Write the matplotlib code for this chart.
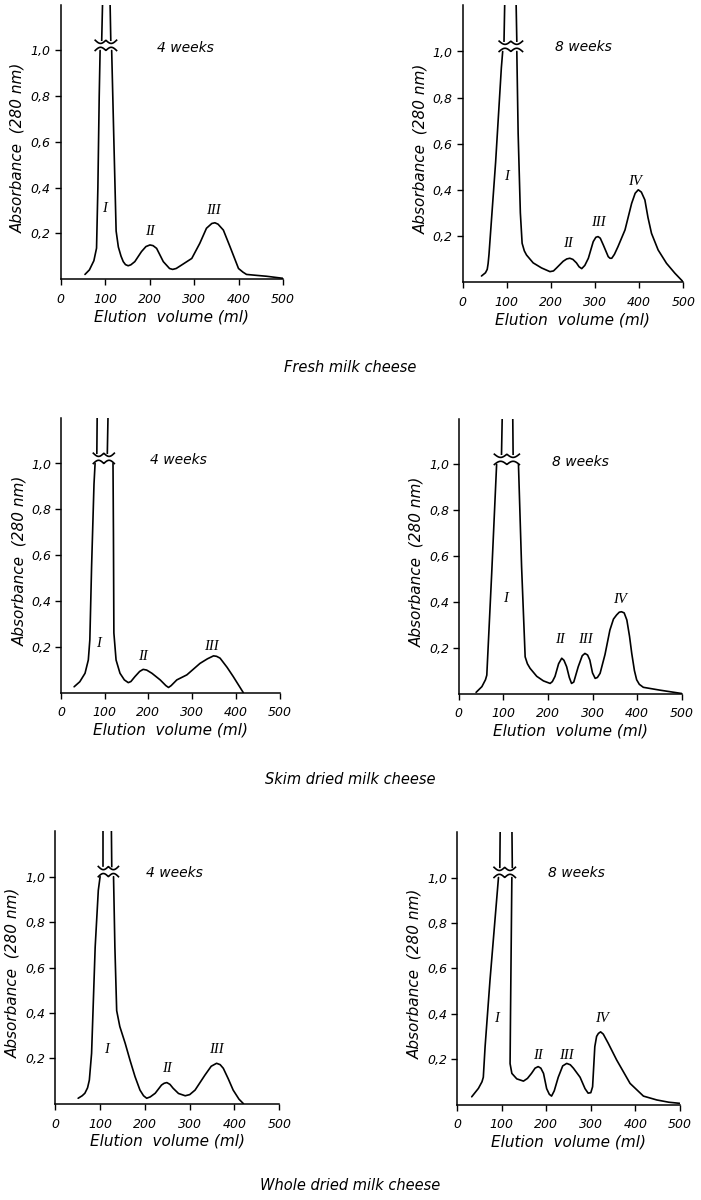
import numpy as np
import matplotlib
matplotlib.use("Agg")
import matplotlib.pyplot as plt

nan = float("nan")

# ---------------- data ----------------
x_ticks = [0, 100, 200, 300, 400, 500]
x_tick_labels = ["0", "100", "200", "300", "400", "500"]
y_ticks = [0.2, 0.4, 0.6, 0.8, 1.0]
y_tick_labels = ["0,2", "0,4", "0,6", "0,8", "1,0"]

# Fresh milk cheese, 4 weeks
fresh4_x = [55, 65, 75, 81, 84, 87, 89, nan, 115, 120, 125, 130, 136, 141, 146, 152, 158, 167, 182, 192,
            201, 208, 216, 231, 245, 252, 260, 272, 295, 313, 328, 340, 347, 354, 366, 381, 400, 410,
            418, 440, 463, 500]
fresh4_y = [0.02, 0.04, 0.08, 0.135, 0.40, 0.80, 1.0, nan, 1.0, 0.60, 0.21, 0.14, 0.10, 0.076, 0.063,
            0.058, 0.062, 0.076, 0.12, 0.142, 0.149, 0.146, 0.134, 0.076, 0.046, 0.042, 0.046, 0.061,
            0.09, 0.156, 0.222, 0.243, 0.246, 0.24, 0.214, 0.141, 0.046, 0.03, 0.02, 0.016, 0.012,
            0.003]
fresh4_top = [92.6, 95, 113, 111]          # peak I above the axis break: left bottom/top, right bottom/top
fresh4_break = [78, 126]
fresh4_peaks = ["I", "II", "III"]
fresh4_peak_x = [100, 201, 343]
fresh4_peak_y = [0.31, 0.21, 0.30]

# Fresh milk cheese, 8 weeks
fresh8_x = [43, 52, 56, 58, 60, 75, 88, 91, nan, 123, 126, 131, 135, 140, 145, 160, 179, 198, 206, 213,
            228, 236, 243, 250, 258, 264, 270, 277, 285, 296, 302, 307, 312, 319, 330, 334, 338, 344,
            352, 368, 383, 391, 398, 405, 413, 420, 428, 443, 462, 481, 500]
fresh8_y = [0.026, 0.04, 0.055, 0.08, 0.12, 0.52, 0.93, 1.0, nan, 1.0, 0.645, 0.30, 0.168, 0.135, 0.117,
            0.083, 0.061, 0.045, 0.048, 0.061, 0.09, 0.1, 0.103, 0.098, 0.083, 0.066, 0.058, 0.072,
            0.103, 0.175, 0.194, 0.197, 0.19, 0.16, 0.11, 0.103, 0.103, 0.12, 0.153, 0.226, 0.341,
            0.385, 0.40, 0.39, 0.356, 0.28, 0.211, 0.139, 0.081, 0.038, 0.0]
fresh8_top = [94, 96, 123, 121]
fresh8_break = [83, 136]
fresh8_peaks = ["I", "II", "III", "IV"]
fresh8_peak_x = [100, 239, 307, 390]
fresh8_peak_y = [0.457, 0.165, 0.257, 0.435]

# Skim dried milk cheese, 4 weeks
skim4_x = [30, 43, 55, 62.5, 66, 70, 75.5, 78, nan, 119, 120, 121, 126, 135, 145, 154, 160, 169, 180,
           188, 196, 208, 227, 240, 246, 252, 265, 288, 318, 335, 349, 356, 364, 380, 394, 417]
skim4_y = [0.025, 0.047, 0.084, 0.142, 0.23, 0.55, 0.91, 1.0, nan, 1.0, 0.695, 0.26, 0.142, 0.084, 0.055,
           0.043, 0.048, 0.069, 0.092, 0.101, 0.098, 0.084, 0.055, 0.03, 0.022, 0.03, 0.055, 0.077,
           0.127, 0.147, 0.16, 0.158, 0.15, 0.11, 0.07, 0.0]
skim4_top = [82, 83, 106, 108]
skim4_break = [74, 122]
skim4_peaks = ["I", "II", "III"]
skim4_peak_x = [85, 188, 345]
skim4_peak_y = [0.215, 0.157, 0.20]

# Skim dried milk cheese, 8 weeks
skim8_x = [39, 52, 60, 63, 74, 85, nan, 134, 141, 149, 154, 160, 175, 190, 205, 210, 216, 224, 231, 236,
           242, 248, 253, 258, 268, 277, 283, 289, 294, 300, 306, 311, 317, 328, 339, 347, 354, 360,
           365, 371, 377, 383, 388, 394, 399, 405, 414, 450, 500]
skim8_y = [0.005, 0.03, 0.06, 0.08, 0.525, 1.0, nan, 1.0, 0.554, 0.16, 0.13, 0.11, 0.075, 0.055, 0.044,
           0.052, 0.075, 0.13, 0.154, 0.145, 0.117, 0.07, 0.044, 0.05, 0.117, 0.165, 0.175, 0.168,
           0.146, 0.09, 0.066, 0.07, 0.088, 0.17, 0.277, 0.325, 0.343, 0.355, 0.357, 0.352, 0.321,
           0.25, 0.175, 0.1, 0.06, 0.04, 0.027, 0.015, 0.0]
skim8_top = [96, 98, 122, 121]
skim8_break = [80, 136]
skim8_peaks = ["I", "II", "III", "IV"]
skim8_peak_x = [104, 227, 283, 362]
skim8_peak_y = [0.415, 0.234, 0.234, 0.41]

# Whole dried milk cheese, 4 weeks
whole4_x = [51, 60, 66, 72, 76, 81, 89, 96, 100, nan, 130, 133, 137, 144, 156, 167, 178, 189, 197, 204,
            212, 223, 237, 243, 249, 256, 263, 275, 290, 300, 312, 334, 348, 360, 368, 375, 386, 397,
            410, 420]
whole4_y = [0.024, 0.035, 0.046, 0.07, 0.104, 0.222, 0.69, 0.94, 1.0, nan, 1.0, 0.69, 0.41, 0.34, 0.266,
            0.19, 0.119, 0.06, 0.035, 0.024, 0.03, 0.046, 0.082, 0.09, 0.093, 0.085, 0.068, 0.045,
            0.035, 0.04, 0.06, 0.126, 0.165, 0.178, 0.172, 0.156, 0.11, 0.06, 0.02, 0.0]
whole4_top = [107, 107, 126, 125]
whole4_break = [96, 141]
whole4_peaks = ["I", "II", "III"]
whole4_peak_x = [115, 249, 360]
whole4_peak_y = [0.237, 0.156, 0.237]

# Whole dried milk cheese, 8 weeks
whole8_x = [33, 48, 56, 59, 63, 74, 93, nan, 123, 120, 119, 123, 134, 149, 158, 167, 175, 182, 188, 194,
            201, 207, 212, 218, 227, 237, 246, 254, 261, 276, 287, 294, 300, 304, 309, 313, 317, 322,
            328, 339, 358, 388, 418, 448, 475, 500]
whole8_y = [0.034, 0.071, 0.1, 0.12, 0.255, 0.548, 1.0, nan, 1.0, 0.40, 0.18, 0.137, 0.113, 0.103,
            0.115, 0.137, 0.16, 0.167, 0.16, 0.137, 0.07, 0.045, 0.037, 0.06, 0.12, 0.17, 0.181,
            0.175, 0.16, 0.12, 0.07, 0.05, 0.052, 0.078, 0.255, 0.3, 0.313, 0.32, 0.31, 0.27, 0.196,
            0.093, 0.037, 0.02, 0.01, 0.005]
whole8_top = [96, 97, 124, 123]
whole8_break = [83, 131]
whole8_peaks = ["I", "II", "III", "IV"]
whole8_peak_x = [89, 182, 246, 324]
whole8_peak_y = [0.38, 0.218, 0.218, 0.38]

panel_titles = ["4 weeks", "8 weeks", "4 weeks", "8 weeks", "4 weeks", "8 weeks"]
captions = ["Fresh milk cheese", "Skim dried milk cheese", "Whole dried milk cheese"]

# ---------------- layout ----------------
W, H = 701, 1200
# (left px, right px, bottom px, px per unit absorbance) for each panel; y range 0..1.2
boxes = [(60.5, 283, 279, 228.5), (462.5, 683.3, 282, 230.5),
         (61, 279.5, 692.5, 229), (458.7, 681.7, 693.5, 229),
         (55.3, 279.3, 1103.7, 227), (457, 680, 1104.5, 227)]
caption_y = [368, 779, 1186]
title_pos = [(280, 1.01), (273, 1.02), (268, 1.015), (272, 1.01), (267, 1.015), (268, 1.02)]

panels = [
    (fresh4_x, fresh4_y, fresh4_top, fresh4_break, fresh4_peaks, fresh4_peak_x, fresh4_peak_y),
    (fresh8_x, fresh8_y, fresh8_top, fresh8_break, fresh8_peaks, fresh8_peak_x, fresh8_peak_y),
    (skim4_x, skim4_y, skim4_top, skim4_break, skim4_peaks, skim4_peak_x, skim4_peak_y),
    (skim8_x, skim8_y, skim8_top, skim8_break, skim8_peaks, skim8_peak_x, skim8_peak_y),
    (whole4_x, whole4_y, whole4_top, whole4_break, whole4_peaks, whole4_peak_x, whole4_peak_y),
    (whole8_x, whole8_y, whole8_top, whole8_break, whole8_peaks, whole8_peak_x, whole8_peak_y),
]

YMAX = 1.2
SANS = "DejaVu Sans"
SERIF = "Liberation Serif"
LW = 1.2

fig = plt.figure(figsize=(W / 100, H / 100), dpi=100)

for i, (px, py, top, brk, names, nx, ny) in enumerate(panels):
    left, right, bottom, scale = boxes[i]
    height = YMAX * scale
    ax = fig.add_axes([left / W, (H - bottom) / H, (right - left) / W, height / H])
    ax.set_xlim(0, 500)
    ax.set_ylim(0, YMAX)
    for s in ("top", "right"):
        ax.spines[s].set_visible(False)
    for s in ("left", "bottom"):
        ax.spines[s].set_linewidth(1.1)
        ax.spines[s].set_color("black")

    # main elution curve
    ax.plot(px, py, color="black", lw=LW, solid_joinstyle="round", solid_capstyle="round")
    # peak I above the axis break
    ax.plot([top[0], top[1]], [1.045, YMAX + 0.05], color="black", lw=LW)
    ax.plot([top[2], top[3]], [1.045, YMAX + 0.05], color="black", lw=LW)
    # break marks (decoration)
    t = np.linspace(0, 1, 60)
    bx = brk[0] + (brk[1] - brk[0]) * t
    wig = 0.014 * np.abs(np.sin(2 * np.pi * t))
    ax.plot(bx, 1.0 + wig, color="black", lw=LW)
    ax.plot(bx, 1.045 - wig, color="black", lw=LW)

    # ticks
    ax.set_xticks(x_ticks, labels=x_tick_labels)
    ax.set_yticks(y_ticks, labels=y_tick_labels)
    ax.tick_params(axis="x", direction="out", length=4, width=1.0, pad=6, labelsize=9)
    ax.tick_params(axis="y", direction="out", length=4, width=1.0, pad=3, labelsize=9)
    for lbl in ax.get_xticklabels() + ax.get_yticklabels():
        lbl.set_fontstyle("italic")
        lbl.set_family(SANS)

    # axis titles
    ax.text(0.5, -0.138, "Elution  volume (ml)", transform=ax.transAxes, ha="center", va="center",
            fontsize=11, style="italic", family=SANS)
    ax.text(-0.19, 0.48, "Absorbance  (280 nm)", transform=ax.transAxes, ha="center", va="center",
            rotation=90, fontsize=11, style="italic", family=SANS)

    # panel title
    tx, ty = title_pos[i]
    ax.text(tx, ty, panel_titles[i], ha="center", va="center", fontsize=10, style="italic", family=SANS)

    # peak numerals
    for name, xx, yy in zip(names, nx, ny):
        ax.text(xx, yy, name, ha="center", va="center", fontsize=10.5, style="italic", family=SERIF)

for cap, cy in zip(captions, caption_y):
    fig.text(350 / W, 1 - cy / H, cap, ha="center", va="center", fontsize=10.5, style="italic", family=SANS)

fig.savefig("out.png", dpi=100)
